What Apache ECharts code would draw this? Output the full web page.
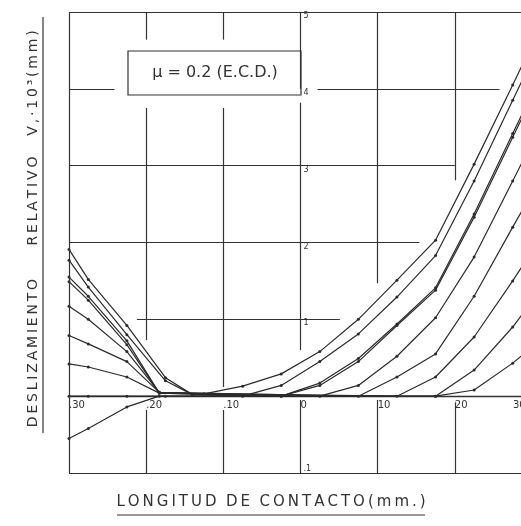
<!DOCTYPE html>
<html><head><meta charset="utf-8">
<script src="https://cdn.jsdelivr.net/npm/echarts@6/dist/echarts.min.js"></script>
<style>html,body{margin:0;padding:0;background:#fff}#c{width:521px;height:526px}</style>
</head><body><div id="c"></div>
<script>
// ---- data (x in mm, y in Vr·10^3 mm) ----
const xTicks = [-30, -20, -10, 0, 10, 20, 30];
const xTickLabels = ['.30', '.20', '.10', '0', '10', '20', ''];
const yTicks = [-1, 0, 1, 2, 3, 4, 5];
const yTickLabels = ['.1', '', '1', '2', '3', '4', '5'];
const curve1 = [[-30,1.91],[-27.5,1.52],[-22.5,0.92],[-17.5,0.24],[-14,0.02],[-12.5,0.03],[-7.5,0.13],[-2.5,0.29],[2.5,0.58],[7.5,1.0],[12.5,1.51],[17.5,2.03],[22.5,3.02],[27.5,4.05],[32,5.0]];
const curve2 = [[-30,1.77],[-27.5,1.42],[-22.5,0.80],[-17.5,0.20],[-14,0.02],[-7.5,0],[-2.5,0.14],[2.5,0.45],[7.5,0.81],[12.5,1.29],[17.5,1.83],[22.5,2.80],[27.5,3.85],[32,4.8]];
const curve3 = [[-30,1.55],[-27.5,1.30],[-22.5,0.72],[-18.3,0.04],[-2.5,0],[2.5,0.17],[7.5,0.49],[12.5,0.94],[17.5,1.41],[22.5,2.37],[27.5,3.42],[32,4.35]];
const curve4 = [[-30,1.49],[-27.5,1.25],[-22.5,0.67],[-18.3,0.04],[-2.5,0],[2.5,0.14],[7.5,0.45],[12.5,0.92],[17.5,1.38],[22.5,2.33],[27.5,3.37],[32,4.3]];
const curve5 = [[-30,1.17],[-27.5,1.00],[-22.5,0.58],[-18.3,0.05],[2.5,0],[7.5,0.14],[12.5,0.52],[17.5,1.02],[22.5,1.81],[27.5,2.80],[32,3.7]];
const curve6 = [[-30,0.79],[-27.5,0.68],[-22.5,0.45],[-18.3,0.05],[7.5,0],[12.5,0.25],[17.5,0.55],[22.5,1.30],[27.5,2.20],[32,3.0]];
const curve7 = [[-30,0.42],[-27.5,0.38],[-22.5,0.25],[-18.3,0.04],[12.5,0],[17.5,0.25],[22.5,0.77],[27.5,1.50],[32,2.2]];
const curve8 = [[-30,0],[-27.5,0],[-22.5,0],[-17.5,0],[17.5,0],[22.5,0.34],[27.5,0.90],[32,1.5]];
const curve9 = [[-30,-0.55],[-27.5,-0.42],[-22.5,-0.14],[-18.3,0],[17.5,0],[22.5,0.08],[27.5,0.43],[32,0.8]];
const curves = [curve1, curve2, curve3, curve4, curve5, curve6, curve7, curve8, curve9];

// grid rule segments of the drawing (data coords)
const hRules = [[5,-30,30],[4,-30,-24.1],[4,2.2,25.8],[3,-30,20],[2,-30,15.4],[1,-21.2,5.1],[-1,-30,30]];
const vRules = [[-30,-1,5],[-20,4.64,5],[-20,0.73,3.75],[-20,-1,-0.18],[-10,4.64,5],[-10,0.12,3.75],[-10,-1,-0.18],
  [0,4.0,5],[0,0.6,3.82],[0,-1,-0.05],[10,1.47,5],[10,-1,-0.05],[20,2.81,5],[20,-1,-0.08]];

const ink = '#2b2b2b';
const ruleData = [];
hRules.forEach(r => ruleData.push([{coord:[r[1], r[0]]},{coord:[r[2], r[0]]}]));
vRules.forEach(r => ruleData.push([{coord:[r[0], r[1]]},{coord:[r[0], r[2]]}]));

const series = curves.map((c, i) => ({
  type: 'line', data: c, symbol: 'circle', symbolSize: 3, showSymbol: true,
  lineStyle: {color: ink, width: 1.2}, itemStyle: {color: ink},
  clip: true, silent: true, animation: false, z: 3
}));
series[7].markLine = {
  silent: true, symbol: 'none', animation: false,
  label: {show: false},
  lineStyle: {color: '#333', width: 1.2, type: 'solid'},
  data: ruleData
};

const ts = '\u2009';
const spaced = s => s.split('').join(ts);

// grid box
const G = {left: 69, top: 12, right: -11, bottom: 53};
const gridW = 521 - G.left - G.right, gridH = 526 - G.top - G.bottom;
const xMin = -30, xMax = 30, yMin = -1, yMax = 5;
// put the axes through the origin (as in the drawing)
const xAxisOffset = -gridH * (0 - yMin) / (yMax - yMin);
const yAxisOffset = -gridW * (0 - xMin) / (xMax - xMin);

const chart = echarts.init(document.getElementById('c'), null, {renderer: 'canvas'});
chart.setOption({
  backgroundColor: '#fff',
  animation: false,
  grid: Object.assign({containLabel: false, outerBoundsMode: 'none'}, G),
  xAxis: {
    type: 'value', min: xMin, max: xMax, interval: 10, position: 'bottom', offset: xAxisOffset,
    splitLine: {show: false}, axisTick: {show: false},
    axisLine: {show: true, onZero: false, lineStyle: {color: '#333', width: 1.4}},
    axisLabel: {
      align: 'left', margin: 4, fontSize: 10, color: '#333', fontFamily: 'DejaVu Sans',
      formatter: v => xTickLabels[xTicks.indexOf(Math.round(v))] || ''
    }
  },
  yAxis: {
    type: 'value', min: yMin, max: yMax, interval: 1, position: 'left', offset: yAxisOffset,
    splitLine: {show: false}, axisTick: {show: false},
    axisLine: {show: false, onZero: false},
    axisLabel: {
      inside: true, margin: 3, fontSize: 8, color: '#333', fontFamily: 'DejaVu Sans',
      verticalAlign: 'top', verticalAlignMinLabel: 'bottom',
      formatter: v => yTickLabels[yTicks.indexOf(Math.round(v))] || ''
    }
  },
  series: series,
  graphic: [
    {type: 'rect', shape: {x: 128, y: 51, width: 173, height: 44},
     style: {fill: 'none', stroke: '#333', lineWidth: 1.2}, z: 10},
    {type: 'text', x: 215, y: 73, z: 10,
     style: {text: 'μ = 0.2 (E.C.D.)', font: '16px "DejaVu Sans"', fill: '#333', align: 'center', verticalAlign: 'middle'}},
    {type: 'text', x: 513, y: 400, z: 10,
     style: {text: '30', font: '10px "DejaVu Sans"', fill: '#333', align: 'left', verticalAlign: 'top'}},
    {type: 'text', x: 33, y: 353, rotation: Math.PI / 2, z: 10,
     style: {text: spaced('DESLIZAMIENTO'), font: '14px "DejaVu Sans"', fill: '#333', align: 'center', verticalAlign: 'middle'}},
    {type: 'text', x: 33, y: 201, rotation: Math.PI / 2, z: 10,
     style: {text: spaced('RELATIVO'), font: '14px "DejaVu Sans"', fill: '#333', align: 'center', verticalAlign: 'middle'}},
    {type: 'text', x: 33, y: 83, rotation: Math.PI / 2, z: 10,
     style: {text: spaced('V,·10³(mm)'), font: '14px "DejaVu Sans"', fill: '#333', align: 'center', verticalAlign: 'middle'}},
    {type: 'line', shape: {x1: 43, y1: 17, x2: 43, y2: 433}, style: {stroke: '#333', lineWidth: 1.2}, z: 10},
    {type: 'text', x: 271, y: 502, z: 10,
     style: {text: spaced('LONGITUD') + '  ' + spaced('DE') + '  ' + spaced('CONTACTO(mm.)'), font: '15px "DejaVu Sans"', fill: '#333', align: 'center', verticalAlign: 'middle'}},
    {type: 'line', shape: {x1: 117, y1: 515, x2: 425, y2: 515}, style: {stroke: '#333', lineWidth: 1.2}, z: 10}
  ]
});
</script></body></html>
